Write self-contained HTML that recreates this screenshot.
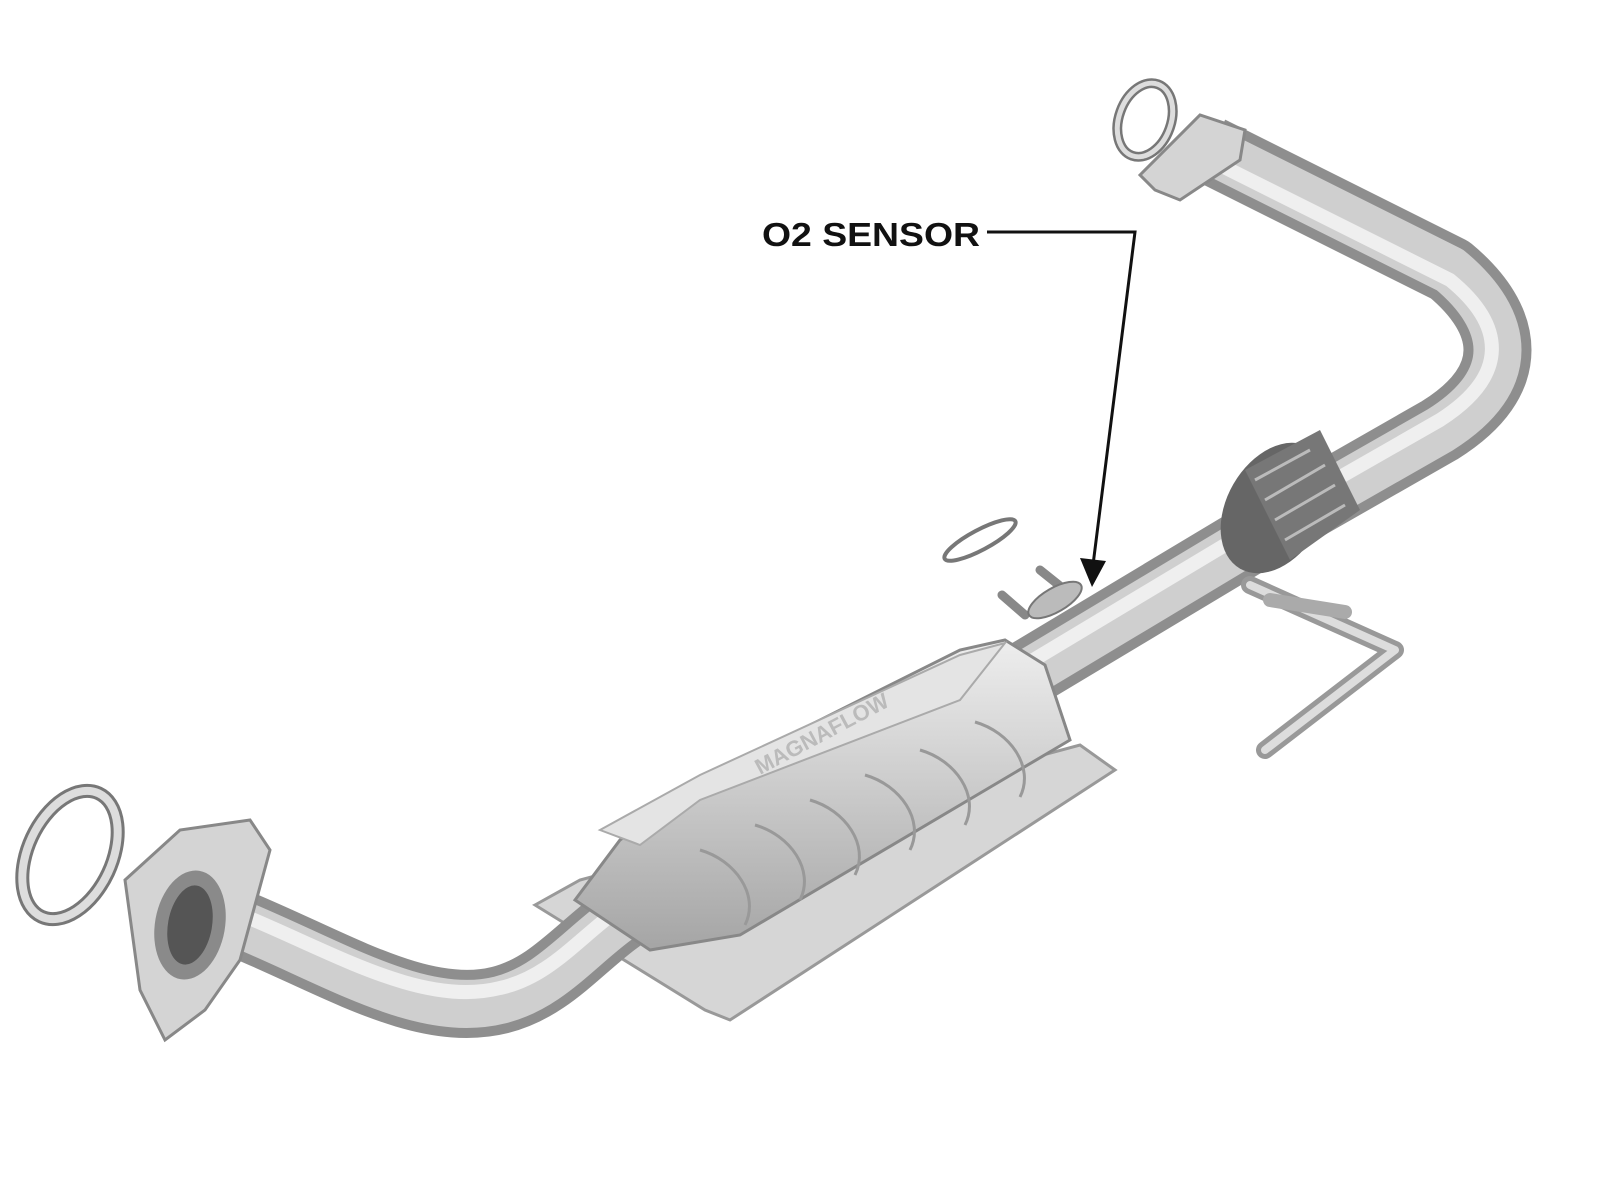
<!DOCTYPE html>
<html><head><style>html,body{margin:0;padding:0;background:#fff}svg{display:block}</style></head>
<body>
<svg width="1600" height="1200" viewBox="0 0 1600 1200" xmlns="http://www.w3.org/2000/svg">
<defs>
<linearGradient id="g" x1="0" y1="0" x2="0" y2="1"><stop offset="0" stop-color="#eeeeee"/><stop offset="1" stop-color="#a5a5a5"/></linearGradient>
</defs>
<ellipse cx="70" cy="855" rx="42" ry="68" transform="rotate(25 70 855)" fill="none" stroke="#777" stroke-width="14"/>
<ellipse cx="70" cy="855" rx="42" ry="68" transform="rotate(25 70 855)" fill="none" stroke="#ddd" stroke-width="8"/>
<ellipse cx="1145" cy="120" rx="26" ry="38" transform="rotate(20 1145 120)" fill="none" stroke="#777" stroke-width="10"/>
<ellipse cx="1145" cy="120" rx="26" ry="38" transform="rotate(20 1145 120)" fill="none" stroke="#ddd" stroke-width="5"/>
<polygon points="535,905 580,880 1080,745 1115,770 730,1020 705,1010" fill="#d6d6d6" stroke="#999" stroke-width="3"/>
<path d="M185,905 L230,920 C330,960 420,1020 500,1000 C560,985 590,930 650,900 L1300,510 L1440,430 C1520,380 1510,320 1450,270 L1210,150" fill="none" stroke="#8e8e8e" stroke-width="68" stroke-linejoin="round"/>
<path d="M185,905 L230,920 C330,960 420,1020 500,1000 C560,985 590,930 650,900 L1300,510 L1440,430 C1520,380 1510,320 1450,270 L1210,150" fill="none" stroke="#cfcfcf" stroke-width="48" stroke-linejoin="round"/>
<path d="M185,895 L230,910 C330,950 420,1008 500,988 C560,975 590,920 650,890 L1300,500 L1440,420 C1510,375 1505,325 1450,280 L1210,160" fill="none" stroke="#efefef" stroke-width="14" stroke-linejoin="round"/>
<ellipse cx="1275" cy="508" rx="48" ry="70" transform="rotate(30 1275 508)" fill="#666"/>
<path d="M1245,470 L1320,430 L1360,510 L1290,560 Z" fill="#777"/>
<path d="M1255,480 L1310,450 M1265,500 L1325,465 M1275,520 L1335,485 M1285,540 L1345,505" stroke="#bbb" stroke-width="3"/>
<path d="M1250,585 L1395,650 L1265,750" fill="none" stroke="#999" stroke-width="18" stroke-linecap="round" stroke-linejoin="round"/>
<path d="M1250,585 L1395,650 L1265,750" fill="none" stroke="#ddd" stroke-width="8" stroke-linecap="round" stroke-linejoin="round"/>
<path d="M1270,600 L1345,612" stroke="#aaa" stroke-width="14" stroke-linecap="round"/>
<polygon points="575,900 620,840 700,780 960,650 1005,640 1045,665 1070,740 740,935 650,950" fill="url(#g)" stroke="#888" stroke-width="3"/>
<polygon points="600,830 700,775 960,655 1005,643 960,700 700,800 640,845" fill="#e4e4e4" stroke="#aaa" stroke-width="2"/>
<g stroke="#999" stroke-width="3" fill="none">
<path d="M700,850 C735,860 760,895 745,925"/><path d="M755,825 C790,835 815,870 800,900"/><path d="M810,800 C845,810 870,845 855,875"/><path d="M865,775 C900,785 925,820 910,850"/><path d="M920,750 C955,760 980,795 965,825"/><path d="M975,722 C1010,732 1035,767 1020,797"/>
</g>
<text x="760" y="775" transform="rotate(-28 760 775)" font-family="Liberation Sans, sans-serif" font-weight="bold" font-size="22" fill="#bbb">MAGNAFLOW</text>
<polygon points="125,880 180,830 250,820 270,850 240,960 205,1010 165,1040 140,990" fill="#d4d4d4" stroke="#888" stroke-width="3"/>
<ellipse cx="190" cy="925" rx="35" ry="55" transform="rotate(10 190 925)" fill="#8a8a8a"/>
<ellipse cx="190" cy="925" rx="22" ry="40" transform="rotate(10 190 925)" fill="#555"/>
<polygon points="1140,175 1200,115 1245,130 1240,160 1180,200 1155,190" fill="#d4d4d4" stroke="#888" stroke-width="3"/>
<ellipse cx="980" cy="540" rx="40" ry="10" transform="rotate(-28 980 540)" fill="none" stroke="#777" stroke-width="4"/>
<path d="M1040,570 L1065,590 M1002,595 L1025,615" stroke="#888" stroke-width="9" stroke-linecap="round"/>
<ellipse cx="1055" cy="600" rx="30" ry="12" transform="rotate(-30 1055 600)" fill="#bbb" stroke="#777" stroke-width="2"/>
<text x="762" y="246" textLength="218" lengthAdjust="spacingAndGlyphs" font-family="Liberation Sans, sans-serif" font-weight="bold" font-size="33" fill="#111">O2 SENSOR</text>
<path d="M987,232 L1135,232 L1093,565" fill="none" stroke="#111" stroke-width="3"/>
<polygon points="1080,558 1106,561 1092,587" fill="#111"/>
</svg>
</body></html>
